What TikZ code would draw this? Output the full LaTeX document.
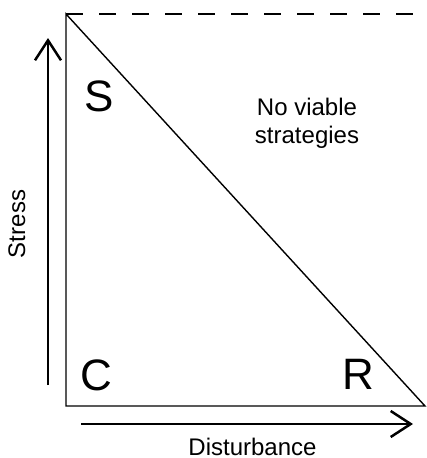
\documentclass[tikz,border=0pt]{standalone}
\usepackage{fontspec}
\setmainfont{Liberation Sans}
\usetikzlibrary{arrows.meta}
\begin{document}
\begin{tikzpicture}[x=1pt,y=-1pt,
  edge/.style={line width=1.4pt},
  axisarrow/.style={line width=2.5pt,-{Straight Barb[length=20pt,width=26pt]}},
  big/.style={font=\fontsize{44}{50}\selectfont, inner sep=0pt, anchor=base},
  lbl/.style={font=\fontsize{24}{28}\selectfont, inner sep=0pt, anchor=base}]
\useasboundingbox (0,0) rectangle (426,458);
\coordinate (T) at (66,14);
\coordinate (O) at (66,406);
\coordinate (B) at (425,406);
\coordinate (E) at (426,14);
\draw[edge] (T) -- (O) -- (B) -- cycle;
\draw[line width=2pt, dash pattern=on 17pt off 16pt] (T) -- (E);
\coordinate (v0) at (48,385);
\coordinate (v1) at (48,38);
\coordinate (h0) at (81,424);
\coordinate (h1) at (413,424);
\draw[axisarrow] (v0) -- (v1);
\draw[axisarrow] (h0) -- (h1);
\node[big] (S) at (99,111) {S};
\node[big] (C) at (96.5,390) {C};
\node[big] (R) at (358,389) {R};
\node[lbl] (nv1) at (307,115) {No viable};
\node[lbl] (nv2) at (307,143) {strategies};
\node[lbl, text depth=0pt] (dist) at (252.5,455) {Disturbance};
\node[lbl, rotate=90] (stress) at (25,224) {Stress};
\end{tikzpicture}
\end{document}
